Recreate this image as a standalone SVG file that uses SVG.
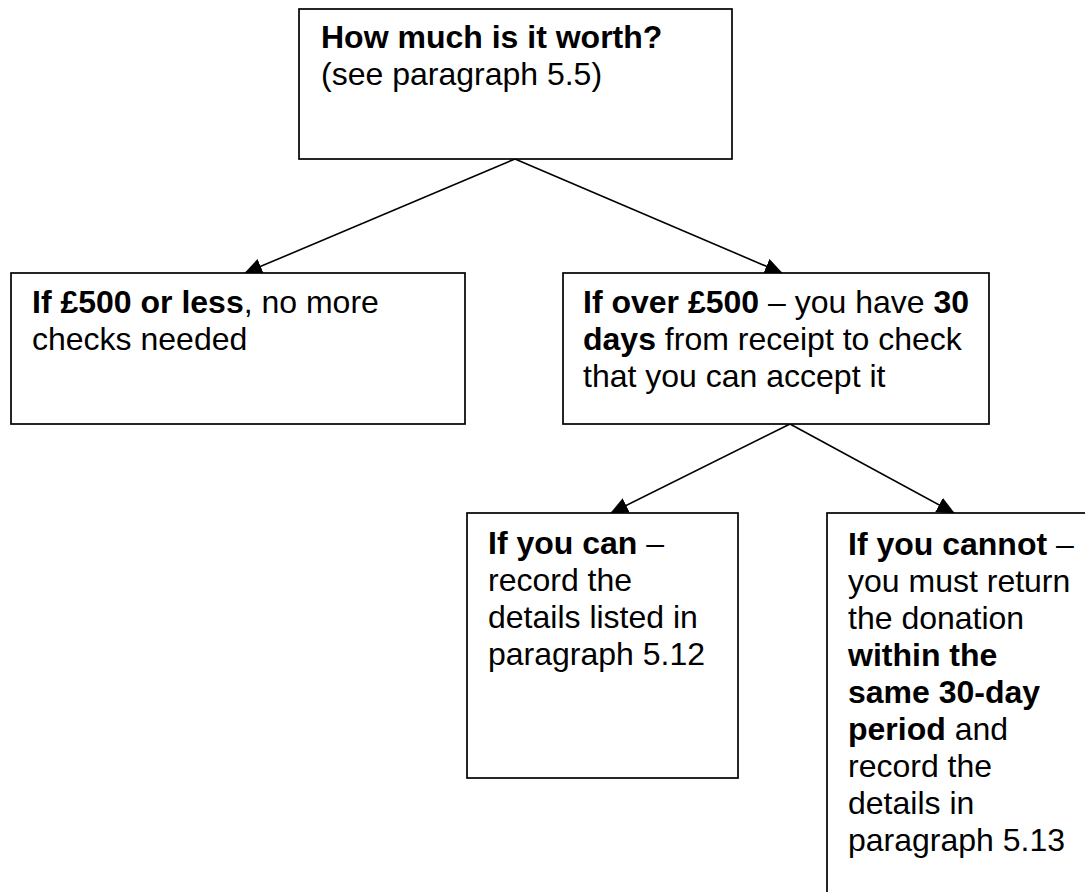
<svg xmlns="http://www.w3.org/2000/svg" width="1085" height="892" viewBox="0 0 1085 892">
<style>
.box{fill:#fff;stroke:#000;stroke-width:1.7}
.t{font-family:"Liberation Sans",Arial,sans-serif;font-size:32px;fill:#000}
.b{font-weight:bold}
.c{stroke:#000;stroke-width:1.6;fill:none;marker-end:url(#ah)}
</style>
<defs>
<marker id="ah" markerWidth="18" markerHeight="16" refX="17" refY="8" orient="auto" markerUnits="userSpaceOnUse">
<path d="M0,0 L18,8 L0,16 Z" fill="#000"/>
</marker>
</defs>
<rect width="1085" height="892" fill="#fff"/>
<g id="connectors">
<line class="c" x1="515" y1="159" x2="245" y2="273"/>
<line class="c" x1="515" y1="159" x2="782" y2="273"/>
<line class="c" x1="790" y1="424" x2="611" y2="513"/>
<line class="c" x1="790" y1="424" x2="954" y2="513"/>
</g>
<g id="node-worth">
<rect class="box" x="299" y="9" width="433" height="150"/>
<text class="t" x="321" y="48"><tspan class="b">How much is it worth?</tspan></text>
<text class="t" x="321" y="85">(see paragraph 5.5)</text>
</g>
<g id="node-under500">
<rect class="box" x="11" y="273" width="454" height="151"/>
<text class="t" x="32" y="313"><tspan class="b">If £500 or less</tspan>, no more</text>
<text class="t" x="32" y="350">checks needed</text>
</g>
<g id="node-over500">
<rect class="box" x="563" y="273" width="426" height="151"/>
<text class="t" x="583" y="313"><tspan class="b">If over £500</tspan> – you have <tspan class="b">30</tspan></text>
<text class="t" x="583" y="350"><tspan class="b">days</tspan> from receipt to check</text>
<text class="t" x="583" y="387">that you can accept it</text>
</g>
<g id="node-can">
<rect class="box" x="467" y="513" width="271" height="265"/>
<text class="t" x="488" y="554"><tspan class="b">If you can</tspan> –</text>
<text class="t" x="488" y="591">record the</text>
<text class="t" x="488" y="628">details listed in</text>
<text class="t" x="488" y="665">paragraph 5.12</text>
</g>
<g id="node-cannot">
<rect class="box" x="827" y="513" width="300" height="420"/>
<text class="t" x="848" y="555"><tspan class="b">If you cannot</tspan> –</text>
<text class="t" x="848" y="592">you must return</text>
<text class="t" x="848" y="629">the donation</text>
<text class="t b" x="848" y="666">within the</text>
<text class="t b" x="848" y="703">same 30-day</text>
<text class="t" x="848" y="740"><tspan class="b">period</tspan> and</text>
<text class="t" x="848" y="777">record the</text>
<text class="t" x="848" y="814">details in</text>
<text class="t" x="848" y="851">paragraph 5.13</text>
</g>
</svg>
